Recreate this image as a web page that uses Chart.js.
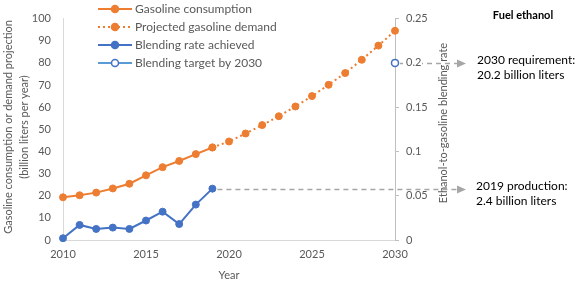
<!DOCTYPE html>
<html><head><meta charset="utf-8">
<script src="https://cdn.jsdelivr.net/npm/chart.js@4"></script>
<style>html,body{margin:0;padding:0;background:#fff}#wrap{width:575px;height:282px;position:relative}</style>
</head><body><div id="wrap"><canvas id="c" width="575" height="282"></canvas></div>
<script>
const years = [2010,2011,2012,2013,2014,2015,2016,2017,2018,2019];
const gasoline = [19.3,20.2,21.4,23.3,25.4,29.2,32.9,35.7,38.8,41.8];
const projYears = [2019,2020,2021,2022,2023,2024,2025,2026,2027,2028,2029,2030];
const projected = [41.8,44.5,48.1,51.9,55.9,60.3,65.0,70.1,75.4,81.4,87.8,94.5];
const blending = [0.002,0.017,0.0125,0.014,0.0125,0.022,0.032,0.018,0.040,0.058];
const targetYear = [2030];
const target = [0.2];
const legendLabels = ['Gasoline consumption','Projected gasoline demand','Blending rate achieved','Blending target by 2030'];
const leftTitle = ['Gasoline consumption or demand projection','(billion liters per year)'];
const rightTitle = 'Ethanol-to-gasoline blending rate';
const notes = {head:'Fuel ethanol', req:['2030 requirement:','20.2 billion liters'], prod:['2019 production:','2.4 billion liters']};

const ORANGE='#ED7D31', BLUE='#4472C4', LBLUE='#5B9BD5', GRAY='#595959', FONT='Lato';
const pts = (xs, ys) => xs.map((x,i)=>({x, y: ys[i]}));

const overlay = {
  id:'overlay',
  beforeDraw(chart){
    const ctx=chart.ctx, x=chart.scales.x, y1=chart.scales.y1;
    ctx.save();
    ctx.strokeStyle='#a6a6a6'; ctx.lineWidth=1.3; ctx.setLineDash([5,4]);
    const lines=[[years[years.length-1], blending[blending.length-1], false],[targetYear[0], target[0], true]];
    lines.forEach(([xv,yv,gap])=>{
      const px=x.getPixelForValue(xv), py=Math.round(y1.getPixelForValue(yv))+0.5;
      ctx.beginPath(); ctx.moveTo(px+5,py); ctx.lineTo(457,py); ctx.stroke();
      ctx.save(); ctx.setLineDash([]); ctx.fillStyle='#a6a6a6';
      ctx.beginPath(); ctx.moveTo(466,py); ctx.lineTo(457,py-4); ctx.lineTo(457,py+4); ctx.closePath(); ctx.fill(); ctx.restore();
      if(gap){ ctx.clearRect(403,py-3,19,6); }
    });
    ctx.restore();
  },
  afterDraw(chart){
    const ctx=chart.ctx, y1=chart.scales.y1;
    ctx.save();
    ctx.fillStyle=GRAY; ctx.font='11px '+FONT; ctx.textAlign='center'; ctx.textBaseline='middle';
    ctx.save(); ctx.translate(8,127); ctx.rotate(-Math.PI/2); ctx.fillText(leftTitle[0],0,0); ctx.restore();
    ctx.save(); ctx.translate(24,127); ctx.rotate(-Math.PI/2); ctx.fillText(leftTitle[1],0,0); ctx.restore();
    ctx.save(); ctx.translate(443,123); ctx.rotate(-Math.PI/2); ctx.fillText(rightTitle,0,0); ctx.restore();
    ctx.fillStyle='#000'; ctx.font='bold 11px '+FONT; ctx.textAlign='center';
    ctx.fillText(notes.head,523,15);
    ctx.font='12px '+FONT; ctx.textAlign='left';
    const ry=y1.getPixelForValue(target[0]), py=y1.getPixelForValue(blending[blending.length-1]);
    ctx.fillText(notes.req[0],477,ry-3); ctx.fillText(notes.req[1],477,ry+12);
    ctx.fillText(notes.prod[0],476,py-3); ctx.fillText(notes.prod[1],476,py+12);
    const rows=[9,27,45,63];
    const styles=[
      {c:ORANGE,dash:[],dot:ORANGE,fill:ORANGE},
      {c:ORANGE,dash:[2,3],dot:ORANGE,fill:ORANGE},
      {c:BLUE,dash:[],dot:BLUE,fill:BLUE},
      {c:LBLUE,dash:[],dot:BLUE,fill:'#fff'}
    ];
    rows.forEach((ry,i)=>{
      const s=styles[i];
      ctx.save(); ctx.strokeStyle=s.c; ctx.lineWidth=2; ctx.setLineDash(s.dash);
      ctx.beginPath(); ctx.moveTo(98,ry); ctx.lineTo(132,ry); ctx.stroke(); ctx.restore();
      ctx.save(); ctx.beginPath(); ctx.arc(115,ry,3.5,0,Math.PI*2); ctx.fillStyle=s.fill; ctx.fill();
      ctx.strokeStyle=s.dot; ctx.lineWidth=1.5; ctx.stroke(); ctx.restore();
      ctx.fillStyle=GRAY; ctx.font='12px '+FONT; ctx.textAlign='left'; ctx.textBaseline='middle';
      ctx.fillText(legendLabels[i],135,ry);
    });
    ctx.restore();
  }
};

new Chart(document.getElementById('c'),{
  type:'line',
  data:{datasets:[
    {label:legendLabels[0],data:pts(years,gasoline),yAxisID:'y',borderColor:ORANGE,backgroundColor:ORANGE,borderWidth:2,pointRadius:3.5,pointBorderWidth:1,tension:0,clip:false},
    {label:legendLabels[1],data:pts(projYears,projected),yAxisID:'y',borderColor:ORANGE,backgroundColor:ORANGE,borderWidth:2,borderDash:[2,3],pointRadius:3.5,pointBorderWidth:1,tension:0,clip:false},
    {label:legendLabels[2],data:pts(years,blending),yAxisID:'y1',borderColor:BLUE,backgroundColor:BLUE,borderWidth:2,pointRadius:3.5,pointBorderWidth:1,tension:0,clip:false},
    {label:legendLabels[3],data:pts(targetYear,target),yAxisID:'y1',borderColor:BLUE,backgroundColor:'#fff',borderWidth:1.5,pointRadius:3.5,pointBorderWidth:1.5,showLine:false,clip:false}
  ]},
  options:{
    responsive:false,animation:false,
    layout:{padding:{top:5,left:0,right:0,bottom:0}},
    plugins:{legend:{display:false},tooltip:{enabled:false}},
    scales:{
      x:{type:'linear',min:2010,max:2030,
        ticks:{stepSize:5,color:GRAY,font:{family:FONT,size:11},padding:8,callback:v=>String(v)},
        grid:{display:false,drawTicks:false},border:{display:true,color:'#d9d9d9'},
        title:{display:true,text:'Year',color:GRAY,font:{family:FONT,size:11},padding:{top:0,bottom:0}},
        afterFit:s=>{s.height=42;}},
      y:{position:'left',min:0,max:100,
        ticks:{stepSize:10,color:GRAY,font:{family:FONT,size:11},padding:12},
        grid:{drawOnChartArea:false,drawTicks:false},border:{display:true,color:'#d9d9d9'},
        afterFit:s=>{s.width=63;}},
      y1:{position:'right',min:0,max:0.25,
        ticks:{stepSize:0.05,color:GRAY,font:{family:FONT,size:11},padding:7,callback:v=>String(parseFloat(v.toFixed(2)))},
        grid:{drawOnChartArea:false,drawTicks:true,tickLength:4,color:'#bfbfbf'},border:{display:true,color:'#bfbfbf'},
        afterFit:s=>{s.width=180;}}
    }
  },
  plugins:[overlay]
});
</script></body></html>
